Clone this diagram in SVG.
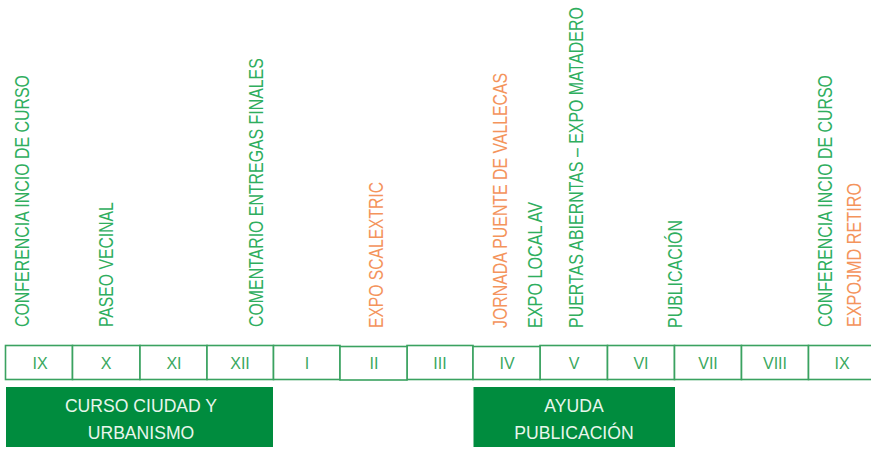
<svg xmlns="http://www.w3.org/2000/svg" width="871" height="450" viewBox="0 0 871 450">
<style>
.bg{fill:#ffffff}
.cell{fill:#ffffff;stroke:#3aa260;stroke-width:1.6}
.mon{font-family:"Liberation Sans",Arial,sans-serif;font-size:16px;fill:#3aa860;text-anchor:middle}
.ev{font-family:"Liberation Sans",Arial,sans-serif;font-size:19.5px}
.g{fill:#2fae5e}
.o{fill:#f4945c}
.bar{fill:#008c3e}
.bt{font-family:"Liberation Sans",Arial,sans-serif;font-size:17.6px;fill:#e8f6ec;text-anchor:middle}
</style>
<rect class="bg" x="0" y="0" width="871" height="450"/>
<g id="months">
<rect class="cell" x="5.5" y="345.5" width="67" height="34"/>
<rect class="cell" x="72.5" y="345.5" width="67.5" height="34"/>
<rect class="cell" x="140" y="345.5" width="67" height="34"/>
<rect class="cell" x="207" y="345.5" width="66.5" height="34"/>
<rect class="cell" x="273.5" y="345.5" width="66.5" height="34"/>
<rect class="cell" x="407" y="345.5" width="66" height="34"/>
<rect class="cell" x="340" y="346.5" width="67" height="33.5"/>
<rect class="cell" x="540" y="345.5" width="67.5" height="34"/>
<rect class="cell" x="473" y="346.5" width="67" height="33"/>
<rect class="cell" x="607.5" y="345.5" width="67" height="34"/>
<rect class="cell" x="674.5" y="345.5" width="67" height="34"/>
<rect class="cell" x="741.5" y="345.5" width="67" height="34"/>
<rect class="cell" x="808.5" y="345.5" width="67" height="34"/>
<text class="mon" x="40" y="369">IX</text>
<text class="mon" x="106" y="369">X</text>
<text class="mon" x="174" y="369">XI</text>
<text class="mon" x="240" y="369">XII</text>
<text class="mon" x="307" y="369">I</text>
<text class="mon" x="374" y="369">II</text>
<text class="mon" x="440" y="369">III</text>
<text class="mon" x="507" y="369">IV</text>
<text class="mon" x="574" y="369">V</text>
<text class="mon" x="641" y="369">VI</text>
<text class="mon" x="708" y="369">VII</text>
<text class="mon" x="775" y="369">VIII</text>
<text class="mon" x="842" y="369">IX</text>
</g>
<g id="bar-curso">
<rect class="bar" x="6" y="387" width="267" height="60"/>
<text class="bt" x="141" y="411.5">CURSO CIUDAD Y</text>
<text class="bt" x="141" y="439">URBANISMO</text>
</g>
<g id="bar-ayuda">
<rect class="bar" x="473.5" y="387" width="201.5" height="60"/>
<text class="bt" x="574" y="411.5">AYUDA</text>
<text class="bt" x="574" y="439">PUBLICACIÓN</text>
</g>
<g id="events">
<text class="ev g" transform="translate(29,327) rotate(-90) scale(0.8,1)" textLength="315" lengthAdjust="spacingAndGlyphs">CONFERENCIA INCIO DE CURSO</text>
<text class="ev g" transform="translate(113,327) rotate(-90) scale(0.8,1)" textLength="156" lengthAdjust="spacingAndGlyphs">PASEO VECINAL</text>
<text class="ev g" transform="translate(263,327) rotate(-90) scale(0.8,1)" textLength="336" lengthAdjust="spacingAndGlyphs">COMENTARIO ENTREGAS FINALES</text>
<text class="ev o" transform="translate(383,328) rotate(-90) scale(0.8,1)" textLength="182.5" lengthAdjust="spacingAndGlyphs">EXPO SCALEXTRIC</text>
<text class="ev o" transform="translate(507,328) rotate(-90) scale(0.8,1)" textLength="319" lengthAdjust="spacingAndGlyphs">JORNADA PUENTE DE VALLECAS</text>
<text class="ev g" transform="translate(542,328) rotate(-90) scale(0.8,1)" textLength="157.5" lengthAdjust="spacingAndGlyphs">EXPO LOCAL AV</text>
<text class="ev g" transform="translate(583,328) rotate(-90) scale(0.8,1)" textLength="401" lengthAdjust="spacingAndGlyphs">PUERTAS ABIERNTAS – EXPO MATADERO</text>
<text class="ev g" transform="translate(682,328) rotate(-90) scale(0.8,1)" textLength="135" lengthAdjust="spacingAndGlyphs">PUBLICACIÓN</text>
<text class="ev g" transform="translate(832,327) rotate(-90) scale(0.8,1)" textLength="315" lengthAdjust="spacingAndGlyphs">CONFERENCIA INCIO DE CURSO</text>
<text class="ev o" transform="translate(861,327) rotate(-90) scale(0.8,1)" textLength="180" lengthAdjust="spacingAndGlyphs">EXPOJMD RETIRO</text>
</g>
</svg>
